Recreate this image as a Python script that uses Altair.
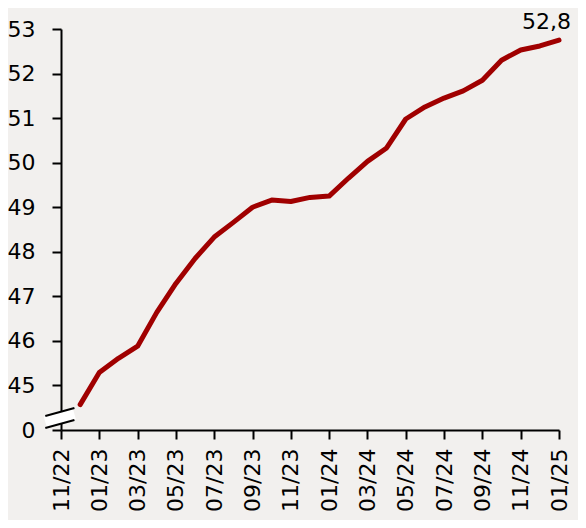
import altair as alt
import pandas as pd

months = ["11/22", "12/22", "01/23", "02/23", "03/23", "04/23", "05/23", "06/23",
          "07/23", "08/23", "09/23", "10/23", "11/23", "12/23", "01/24", "02/24",
          "03/24", "04/24", "05/24", "06/24", "07/24", "08/24", "09/24", "10/24",
          "11/24", "12/24", "01/25"]
values = [44.57, 45.29, 45.61, 45.88, 46.64, 47.29, 47.85, 48.33, 48.66, 49.00,
          49.16, 49.13, 49.22, 49.25, 49.65, 50.03, 50.33, 50.98, 51.25, 51.45,
          51.61, 51.85, 52.30, 52.53, 52.62, 52.75]
last_label = "52,8"

FONT = "DejaVu Sans"
RED = "#a00000"
BG = "#f2f0ee"

df = pd.DataFrame({"i": list(range(1, len(values) + 1)), "v": values})
lab_df = pd.DataFrame({"i": [len(values)], "v": [values[-1]], "t": [last_label]})

# axis break decoration (in data units)
brk_white = pd.DataFrame({"i": [-0.82, 0.70], "v": [44.18, 44.36]})
brk_black = pd.DataFrame({
    "i": [-0.82, 0.70, -0.82, 0.70],
    "v": [44.315, 44.495, 44.045, 44.225],
    "g": ["a", "a", "b", "b"],
})

arr = "[" + ",".join("'" + m + "'" for m in months) + "]"

xs = alt.Scale(domain=[0, len(months) - 1], nice=False, zero=False)
ys = alt.Scale(domain=[44, 53], nice=False, zero=False)

x_axis = alt.Axis(values=list(range(0, len(months), 2)), labelExpr=arr + "[datum.value]",
                  labelAngle=270, labelFontSize=22, labelFont=FONT, labelColor="black",
                  labelOverlap=False, labelFlush=False, labelBound=False,
                  domainColor="black", domainWidth=2, tickColor="black", tickWidth=2,
                  tickSize=9, labelPadding=9, grid=False, title=None)
y_axis = alt.Axis(values=list(range(44, 54)),
                  labelExpr="datum.value == 44 ? '0' : datum.label",
                  labelFontSize=22, labelFont=FONT, labelColor="black",
                  labelOverlap=False, labelFlush=False, labelBound=False,
                  domainColor="black", domainWidth=2, tickColor="black", tickWidth=2,
                  tickSize=9, labelPadding=17, grid=False, title=None)

line = alt.Chart(df).mark_line(color=RED, strokeWidth=5, strokeCap="round",
                               strokeJoin="round").encode(
    x=alt.X("i:Q", scale=xs, axis=x_axis),
    y=alt.Y("v:Q", scale=ys, axis=y_axis),
)

white = alt.Chart(brk_white).mark_line(color="white", strokeWidth=11, strokeCap="butt",
                                       clip=False).encode(
    x=alt.X("i:Q", scale=xs, axis=x_axis), y=alt.Y("v:Q", scale=ys, axis=y_axis))
black = alt.Chart(brk_black).mark_line(color="black", strokeWidth=2, clip=False).encode(
    x=alt.X("i:Q", scale=xs, axis=x_axis), y=alt.Y("v:Q", scale=ys, axis=y_axis),
    detail="g:N")

text = alt.Chart(lab_df).mark_text(font=FONT, fontSize=22, align="right", dx=12, dy=-11,
                                   baseline="alphabetic", color="black").encode(
    x=alt.X("i:Q", scale=xs, axis=x_axis), y=alt.Y("v:Q", scale=ys, axis=y_axis),
    text="t:N")

chart = alt.layer(white, black, line, text).properties(
    width=498, height=401,
    autosize=alt.AutoSizeParams(type="none"),
    padding={"left": 53, "top": 21, "right": 19, "bottom": 90},
    background=BG,
).configure_view(stroke=None)

chart.save("out.html", embed_options={"renderer": "svg", "actions": False})
